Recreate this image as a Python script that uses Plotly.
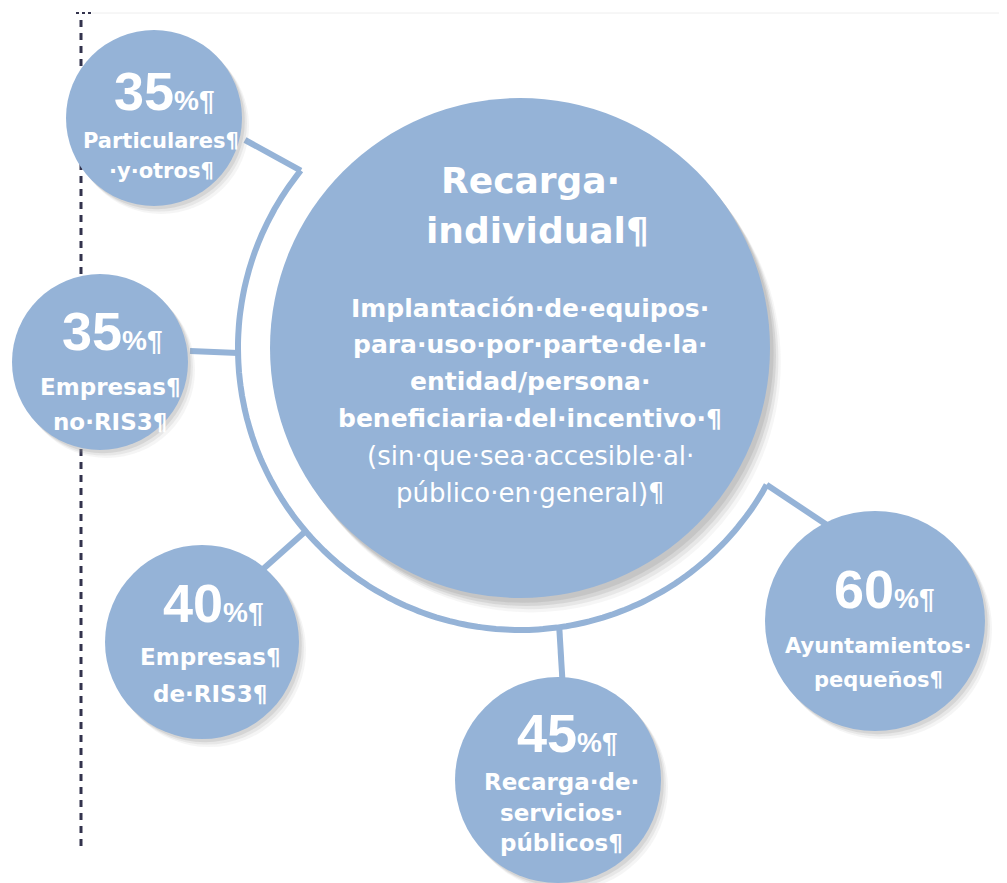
import numpy as np
import plotly.graph_objects as go

W, H = 1007, 883
OFF = 8  # the page body keeps an 8px margin

# ---- data (text content of the diagram) ----
percents = [35, 35, 40, 45, 60]
group_labels = [
    ["Particulares¶", "·y·otros¶"],
    ["Empresas¶", "no·RIS3¶"],
    ["Empresas¶", "de·RIS3¶"],
    ["Recarga·de·", "servicios·", "públicos¶"],
    ["Ayuntamientos·", "pequeños¶"],
]
main_title = ["Recarga·", "individual¶"]
main_desc_bold = ["Implantación·de·equipos·", "para·uso·por·parte·de·la·",
                  "entidad/persona·", "beneficiaria·del·incentivo·¶"]
main_desc_regular = ["(sin·que·sea·accesible·al·", "público·en·general)¶"]

# ---- layout (pixel positions, y grows downward) ----
BLUE = "#95B3D7"
FONT = "DejaVu Sans"
NUM_FONT = "Liberation Sans"
main_c, main_r = (520, 348), 250
arc_r, arc_from, arc_to = 282, 141, 331

bub_cx = [154, 100, 202, 558, 875]
bub_cy = [118, 362, 642, 780, 621]
bub_r = [88, 88, 97, 103, 110]
num_x = [164, 112, 213, 567, 884]
num_base = [110, 350, 622, 752, 608]
lab_x = [161, 110, 210, 561, 878]
lab_base = [[148, 178], [395, 430], [665, 702], [790, 821, 851], [653, 687]]
lab_size = [21, 23, 23, 23, 21]
# connector: angle on the ring -> end point near the bubble
conn = [(141, 245, 140), (181, 190, 351), (220.5, 262, 570), (278, 563, 690), (331, 827, 525)]

fig = go.Figure()
shapes, notes = [], []


def circle(cx, cy, r, color, opacity=1.0):
    return dict(type="circle", xref="x", yref="y", x0=cx - r, x1=cx + r, y0=cy - r, y1=cy + r,
                fillcolor=color, line=dict(width=0), opacity=opacity, layer="above")


def ring_point(ang, r=arc_r):
    a = np.radians(ang)
    return main_c[0] + r * np.cos(a), main_c[1] - r * np.sin(a)


def text(x, base, s, size, bold=True, family=FONT):
    # put the baseline at `base` (middle of the text box sits ~0.346em above it)
    notes.append(dict(x=x, y=base - 0.346 * size, xref="x", yref="y", showarrow=False,
                      xanchor="center", yanchor="middle",
                      text=f"<b>{s}</b>" if bold else s,
                      font=dict(family=family, size=size, color="white")))


# faint page edge and the dotted margin line of the document
shapes.append(dict(type="line", x0=92, x1=W, y0=13, y1=13, line=dict(color="#eeeeee", width=1)))
shapes.append(dict(type="line", x0=81, x1=81, y0=20, y1=850,
                   line=dict(color="#33334d", width=3, dash="7px,6px")))
shapes.append(dict(type="line", x0=76, x1=92, y0=13, y1=13, line=dict(color="#33334d", width=2, dash="dot")))

# ring arc around the main circle (left and bottom side)
pts = [ring_point(a) for a in np.linspace(arc_from, arc_to, 200)]
path = "M " + " L ".join(f"{x:.1f},{y:.1f}" for x, y in pts)
shapes.append(dict(type="path", path=path, line=dict(color=BLUE, width=6), layer="above"))

# connectors
for ang, ex, ey in conn:
    sx, sy = ring_point(ang)
    shapes.append(dict(type="line", x0=sx, y0=sy, x1=ex, y1=ey, line=dict(color=BLUE, width=6), layer="above"))

# main circle with soft shadow
for k, op in [(18, 0.10), (14, 0.18), (10, 0.28), (6, 0.35)]:
    shapes.append(circle(main_c[0] + k * 0.6, main_c[1] + k * 0.8, main_r, "#a8a8a8", op))
shapes.append(circle(main_c[0], main_c[1], main_r, BLUE))

# small bubbles with shadow
for cx, cy, r in zip(bub_cx, bub_cy, bub_r):
    for k, op in [(10, 0.10), (7, 0.16), (4, 0.24)]:
        shapes.append(circle(cx + k * 0.7, cy + k * 0.8, r, "#a0a0a0", op))
    shapes.append(circle(cx, cy, r, BLUE))

# main text
text(530, 193, main_title[0], 36)
text(537, 243, main_title[1], 36)
for s, b in zip(main_desc_bold, [317, 353, 390, 427]):
    text(530, b, s, 25)
for s, b in zip(main_desc_regular, [465, 502]):
    text(530, b, s, 26, bold=False)

# bubble text
for i, p in enumerate(percents):
    text(num_x[i], num_base[i], f"{p}<span style='font-size:28px'>%¶</span>", 54, family=NUM_FONT)
    for s, b in zip(group_labels[i], lab_base[i]):
        text(lab_x[i], b, s, lab_size[i])

fig.update_layout(
    width=W - OFF, height=H - OFF, margin=dict(l=0, r=0, t=0, b=0),
    paper_bgcolor="white", plot_bgcolor="white",
    xaxis=dict(range=[OFF, W], visible=False, fixedrange=True),
    yaxis=dict(range=[H, OFF], visible=False, fixedrange=True),
    shapes=shapes, annotations=notes, showlegend=False,
)

fig.write_html("out.html")
